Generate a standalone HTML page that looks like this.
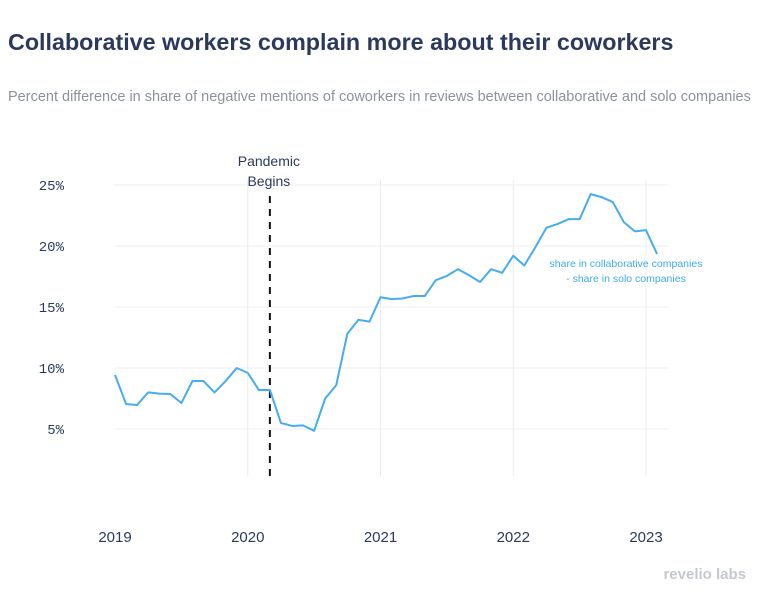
<!DOCTYPE html>
<html><head><meta charset="utf-8"><style>
body{margin:0;background:#fff;width:768px;height:600px;overflow:hidden;font-family:"Liberation Sans",sans-serif}
</style></head><body>
<svg width="768" height="600">
<text x="8" y="50" font-size="23.3" font-weight="bold" fill="#2b3a5c">Collaborative workers complain more about their coworkers</text>
<text x="8" y="101" font-size="14.5" fill="#8a929c">Percent difference in share of negative mentions of coworkers in reviews between collaborative and solo companies</text>
<g id="grid"></g>
<g id="yaxis"></g>
<g id="xaxis"></g>
<g id="marks"></g>
<text x="626" y="267" font-size="10.5" fill="#3eaaf0" text-anchor="middle">share in collaborative companies</text>
<text x="626" y="282" font-size="10.5" fill="#3eaaf0" text-anchor="middle">-  share in solo companies</text>
<text x="746" y="579" font-size="15" font-weight="bold" fill="#c4c8ce" text-anchor="end">revelio labs</text>
</svg>
<script>
const yTicks=[5,10,15,20,25];
const yearLabels=["2019","2020","2021","2022","2023"];
const values=[9.43,7.05,6.97,8.0,7.9,7.87,7.13,8.93,8.93,8.0,8.93,10.0,
9.6,8.2,8.2,5.5,5.25,5.3,4.85,7.5,8.6,12.8,13.95,13.8,
15.8,15.65,15.7,15.9,15.9,17.2,17.55,18.1,17.6,17.05,18.1,
17.8,19.2,18.4,19.9,21.5,21.8,22.2,22.2,24.25,24.0,23.6,21.95,
21.2,21.3,19.35];
const pandemicMonth=14;
const NS="http://www.w3.org/2000/svg";
const x0=115,mStep=(646-115)/48;
function xm(i){return x0+i*mStep;}
function y(v){return 429-(v-5)*12.2;}
function mk(t,a,p){const e=document.createElementNS(NS,t);for(const k in a)e.setAttribute(k,a[k]);p.appendChild(e);return e;}
const grid=document.getElementById('grid'),ya=document.getElementById('yaxis'),xa=document.getElementById('xaxis'),mg=document.getElementById('marks');
yTicks.forEach(v=>{
 const l=mk('line',{x1:115,x2:668,y1:y(v),y2:y(v),stroke:'#ececf0','stroke-width':1},grid);
 
 
 const t=mk('text',{x:64,y:y(v)+5,'font-size':14,'font-family':'Liberation Mono, monospace',fill:'#2b3a5c','text-anchor':'end'},ya);
 t.textContent=v+'%';
 
 
});
yearLabels.forEach((s,i)=>{
 const x=xm(i*12);
 if(i>0){const l=mk('line',{x1:x,x2:x,y1:180,y2:476,stroke:'#ececf0','stroke-width':1},grid);
 
 }
 const t=mk('text',{x:x,y:542,'font-size':15,fill:'#2b3a5c','text-anchor':'middle'},xa);
 t.textContent=s;
 
 
});
const px=xm(pandemicMonth);
const pl=mk('line',{x1:px,x2:px,y1:196,y2:476,stroke:'#111','stroke-width':2,'stroke-dasharray':'7,6'},mg);


[['Pandemic',166],['Begins',186]].forEach(([s,yy])=>{
 const t=mk('text',{x:px-1,y:yy,'font-size':14,fill:'#2b3a5c','text-anchor':'middle'},mg);
 t.textContent=s;
 
 
});
const path=mk('polyline',{points:values.map((v,i)=>xm(i)+','+y(v)).join(' '),fill:'none',stroke:'#45acef','stroke-width':2,'stroke-linejoin':'round'},mg);


</script>
</body></html>
